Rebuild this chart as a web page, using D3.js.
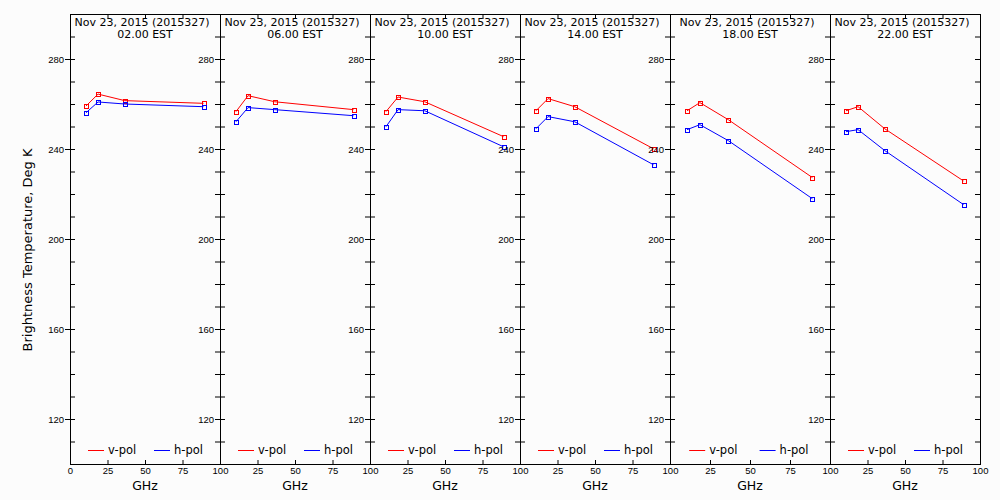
<!DOCTYPE html>
<html lang="en">
<head>
    <meta charset="UTF-8">
    <title>Brightness Temperature</title>
    <script src="https://d3js.org/d3.v7.min.js"></script>
    <style>
        body { margin: 0; background: #fcfcfc; }
        svg { font-family: "DejaVu Sans", sans-serif; }
        .axis path { display: none; }
        .axis line { stroke: #000; }
        .axis text { fill: #000; font-size: 9.5px; }
    </style>
</head>
<body>
<svg width="1000" height="500"></svg>
<script type="text/javascript">
    // channel frequencies (GHz)
    let freqs = [10.65, 18.7, 36.5, 89.0];
    let dateLabel = "Nov 23, 2015 (2015327)";
    let times = ["02.00 EST", "06.00 EST", "10.00 EST", "14.00 EST", "18.00 EST", "22.00 EST"];

    // brightness temperature, Deg K, one row per panel
    let vpol = [
        [259.1, 264.4, 261.5, 260.3],
        [256.6, 263.7, 261.0, 257.5],
        [256.6, 263.1, 261.0, 245.5],
        [257.0, 262.4, 258.8, 240.1],
        [257.0, 260.6, 253.0, 227.3],
        [257.0, 258.8, 249.0, 225.8]
    ];
    let hpol = [
        [256.1, 260.9, 260.0, 258.8],
        [252.1, 258.4, 257.5, 254.8],
        [249.9, 257.5, 257.0, 241.0],
        [249.0, 254.4, 252.1, 233.0],
        [248.6, 250.8, 243.7, 217.9],
        [247.7, 248.6, 239.3, 215.3]
    ];

    let yMajor = [120, 160, 200, 240, 280];
    let yMinor = d3.range(100, 301, 10);
    let xTicks = [0, 25, 50, 75, 100];

    let svg = d3.select("svg");
    let edges = [70, 220, 370, 520, 670, 830, 980];
    let yTop = 14, yBottom = 464;

    let y = d3.scaleLinear().domain([100, 300]).range([yBottom, yTop]);

    let line = (x) => d3.line().x(d => x(d[0])).y(d => y(d[1]));

    times.forEach((t, i) => {
        let x0 = edges[i], x1 = edges[i + 1], w = x1 - x0;
        let x = d3.scaleLinear().domain([0, 100]).range([x0, x1]);
        let g = svg.append("g");

        // frame
        g.append("rect")
            .attr("x", x0 + 0.5).attr("y", yTop + 0.5)
            .attr("width", w).attr("height", yBottom - yTop)
            .attr("fill", "none").attr("stroke", "#000");

        // left axis: inward minor ticks, crossing major ticks with labels
        g.append("g").attr("class", "axis")
            .attr("transform", `translate(${x0},0)`)
            .call(d3.axisLeft(y).tickValues(yMinor).tickSize(-5).tickFormat(""));
        g.append("g").attr("class", "axis")
            .attr("transform", `translate(${x0},0)`)
            .call(d3.axisLeft(y).tickValues(yMajor).tickSize(5).tickPadding(1).tickFormat(d3.format("d")));
        // right axis: inward ticks
        g.append("g").attr("class", "axis")
            .attr("transform", `translate(${x1},0)`)
            .call(d3.axisRight(y).tickValues(yMinor).tickSize(-5).tickFormat(""));

        // top and bottom axes
        g.append("g").attr("class", "axis")
            .attr("transform", `translate(0,${yTop})`)
            .call(d3.axisTop(x).tickValues([25, 50, 75]).tickSize(-5).tickFormat(""));
        g.append("g").attr("class", "axis")
            .attr("transform", `translate(0,${yBottom})`)
            .call(d3.axisBottom(x).tickValues(i === 0 ? xTicks : xTicks.slice(1))
                .tickSize(-4).tickPadding(3).tickFormat(d3.format("d")));

        g.append("text")
            .attr("x", (x0 + x1) / 2).attr("y", 490)
            .attr("text-anchor", "middle").style("font-size", "12.5px")
            .text("GHz");

        // titles
        g.append("text")
            .attr("x", (x0 + x1) / 2 - 3).attr("y", 26)
            .attr("text-anchor", "middle").style("font-size", "11px")
            .text(dateLabel);
        g.append("text")
            .attr("x", (x0 + x1) / 2).attr("y", 38)
            .attr("text-anchor", "middle").style("font-size", "11px")
            .text(t);

        // series
        [[vpol[i], "#ff0000"], [hpol[i], "#0000ff"]].forEach(([vals, col]) => {
            let pts = freqs.map((f, k) => [f, vals[k]]);
            g.append("path")
                .attr("d", line(x)(pts))
                .attr("fill", "none").attr("stroke", col).attr("stroke-width", 1);
            g.selectAll(null)
                .data(pts)
                .join("rect")
                .attr("x", d => Math.round(x(d[0])) - 1.5)
                .attr("y", d => Math.round(y(d[1])) - 1.5)
                .attr("width", 4).attr("height", 4)
                .attr("fill", "none").attr("stroke", col)
                .attr("shape-rendering", "crispEdges");
        });

        // legend
        [["v-pol", "#ff0000", 0.12], ["h-pol", "#0000ff", 0.56]].forEach(([lab, col, f]) => {
            let lx = x0 + w * f;
            g.append("line")
                .attr("x1", lx).attr("x2", lx + 16)
                .attr("y1", 450.5).attr("y2", 450.5)
                .attr("stroke", col);
            g.append("text")
                .attr("x", lx + 20).attr("y", 450).attr("dy", "0.35em")
                .style("font-size", "11.5px")
                .text(lab);
        });
    });

    // y axis title
    svg.append("text")
        .attr("transform", "translate(32,250) rotate(-90)")
        .attr("text-anchor", "middle").style("font-size", "13px")
        .text("Brightness Temperature, Deg K");
</script>
</body>
</html>
